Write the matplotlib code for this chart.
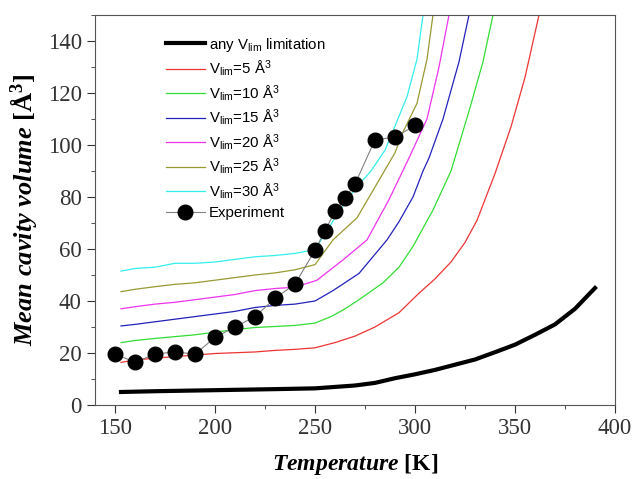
import matplotlib
matplotlib.use("Agg")
import matplotlib.pyplot as plt
from matplotlib.ticker import MultipleLocator

plt.rcParams['font.family'] = ['Liberation Serif', 'DejaVu Serif']
plt.rcParams['mathtext.fontset'] = 'custom'
plt.rcParams['mathtext.sf'] = 'Liberation Sans'
plt.rcParams['mathtext.it'] = 'Liberation Serif:italic:bold'
plt.rcParams['mathtext.rm'] = 'Liberation Serif:bold'

# simulated curves, temperature [K] and mean cavity volume [A^3]
t_any = [153, 170, 200, 230, 250, 270, 280, 290, 300, 310, 320, 330, 340, 350, 360, 370, 380, 390]
v_any = [5.0, 5.3, 5.7, 6.1, 6.4, 7.5, 8.5, 10.3, 11.8, 13.5, 15.5, 17.5, 20.3, 23.2, 27.0, 31.0, 37.0, 45.0]

t_5 = [153, 160, 170, 180, 190, 200, 210, 220, 230, 240, 250, 260, 270, 280, 292, 302, 310, 318,
       325, 331, 340, 348, 355, 362, 366]
v_5 = [16.4, 17.3, 18.0, 18.6, 19.2, 19.8, 20.1, 20.4, 21.0, 21.4, 22.0, 24.0, 26.5, 30.0, 35.5,
       43.0, 48.5, 55.0, 62.5, 71.0, 89.0, 107.0, 126.0, 150.0, 166.0]

t_10 = [153, 160, 170, 180, 190, 200, 210, 220, 230, 240, 250, 258, 264, 272, 284, 292, 299, 309,
        318, 327, 334, 339, 342]
v_10 = [24.0, 24.8, 25.6, 26.3, 27.0, 28.0, 29.0, 29.8, 30.2, 30.6, 31.5, 34.0, 36.5, 40.5, 47.0,
        53.0, 61.0, 75.0, 90.0, 113.0, 132.0, 150.0, 162.0]

t_15 = [153, 160, 170, 180, 190, 200, 210, 220, 230, 240, 250, 259, 272, 286, 292, 299, 304, 307,
        314, 322, 327, 330]
v_15 = [30.4, 31.0, 32.0, 33.0, 34.0, 35.0, 36.0, 37.5, 38.3, 38.8, 40.0, 44.0, 50.6, 63.5, 70.5,
        80.0, 90.0, 95.0, 110.0, 132.0, 150.0, 162.0]

t_20 = [153, 160, 170, 180, 190, 200, 210, 220, 230, 240, 251, 264, 276, 287, 297, 306, 312, 317, 320]
v_20 = [37.0, 37.8, 38.8, 39.5, 40.5, 41.5, 42.5, 44.0, 44.8, 45.3, 48.0, 55.8, 63.5, 79.0, 95.0,
        110.0, 130.0, 150.0, 163.0]

t_25 = [153, 160, 170, 180, 190, 200, 210, 220, 230, 240, 250, 259, 271, 279, 290, 294, 301, 306,
        309, 311]
v_25 = [43.6, 44.5, 45.5, 46.4, 47.0, 48.0, 49.0, 50.0, 50.8, 52.0, 54.0, 63.5, 72.0, 82.5, 97.0,
        105.0, 116.0, 133.0, 150.0, 162.0]

t_30 = [153, 160, 170, 180, 190, 200, 210, 220, 230, 240, 250, 256, 260, 266, 271, 278, 285, 292,
        296, 301, 304, 306]
v_30 = [51.5, 52.5, 53.0, 54.5, 54.5, 55.0, 56.0, 57.0, 57.5, 58.3, 59.8, 67.0, 72.0, 79.0, 84.0,
        90.0, 98.0, 111.0, 118.6, 133.0, 150.0, 160.0]

# experimental points
t_exp = [150, 160, 170, 180, 190, 200, 210, 220, 230, 240, 250, 255, 260, 265, 270, 280, 290, 300]
v_exp = [19.5, 16.5, 19.5, 20.5, 19.5, 26.0, 30.0, 34.0, 41.0, 46.5, 59.5, 67.0, 74.5, 79.5, 85.0,
         102.0, 103.0, 107.5]

fig = plt.figure(figsize=(6.35, 4.79), dpi=100)
ax = fig.add_axes([0.1496, 0.1545, 0.8189, 0.8142])

ax.plot(t_any, v_any, color='black', lw=3, label=r'any V$_\mathsf{lim}$ limitation')
ax.plot(t_5, v_5, color='#ee3333', lw=0.9, label=r'V$_\mathsf{lim}$=5 Å$^\mathsf{3}$')
ax.plot(t_10, v_10, color='#33dd33', lw=0.9, label=r'V$_\mathsf{lim}$=10 Å$^\mathsf{3}$')
ax.plot(t_15, v_15, color='#2222bb', lw=0.9, label=r'V$_\mathsf{lim}$=15 Å$^\mathsf{3}$')
ax.plot(t_20, v_20, color='#ee33ee', lw=0.9, label=r'V$_\mathsf{lim}$=20 Å$^\mathsf{3}$')
ax.plot(t_25, v_25, color='#999933', lw=0.9, label=r'V$_\mathsf{lim}$=25 Å$^\mathsf{3}$')
ax.plot(t_30, v_30, color='#33eeee', lw=0.9, label=r'V$_\mathsf{lim}$=30 Å$^\mathsf{3}$')
ax.plot(t_exp, v_exp, color='gray', lw=0.8, marker='o', ms=10.5, mfc='black', mec='black',
        label='Experiment', zorder=5)

ax.set_xlim(140, 400)
ax.set_ylim(0, 150)
ax.xaxis.set_major_locator(MultipleLocator(50))
ax.xaxis.set_minor_locator(MultipleLocator(25))
ax.yaxis.set_major_locator(MultipleLocator(20))
ax.yaxis.set_minor_locator(MultipleLocator(10))
ax.tick_params(which='both', direction='out', top=False, right=False, labelsize=16.5,
               colors='#333333')
ax.tick_params(which='major', length=6)
ax.tick_params(which='minor', length=3)
for sp in ax.spines.values():
    sp.set_color('#555555')

ax.set_xlabel(r'$\mathit{Temperature}$ [K]', fontsize=17, fontweight='bold', labelpad=9)
ax.set_ylabel(r'$\mathit{Mean\ cavity\ volume}$ [Å$^\mathrm{3}$]', fontsize=19,
              fontweight='bold', labelpad=6)

leg = ax.legend(loc='upper left', bbox_to_anchor=(0.11, 0.982), frameon=False,
                prop={'family': 'Liberation Sans', 'size': 10.8}, handlelength=2.6,
                handletextpad=0.3, labelspacing=0.36)

fig.savefig('out.png', dpi=100)
